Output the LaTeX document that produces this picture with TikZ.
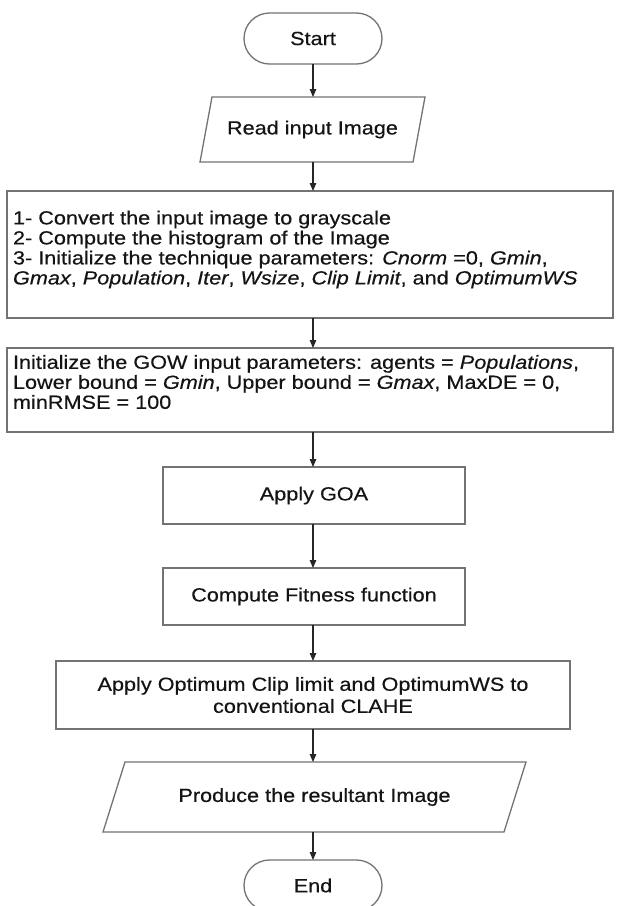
\documentclass[tikz,border=0pt]{standalone}
\usepackage{fontspec}
\setmainfont{Liberation Sans}[FakeStretch=1.14, FakeBold=0.4]
\usetikzlibrary{shapes.misc, arrows.meta, calc}
\begin{document}
\begin{tikzpicture}[x=1pt,y=-1pt,
  every node/.style={font=\fontsize{19}{20}\selectfont, text=black!92, inner sep=0pt, outer sep=0pt},
  frame/.style={draw=black!55, line width=1.3pt, fill=white},
  termbox/.style={frame, rounded rectangle, minimum width=138pt, minimum height=51pt},
  procbox/.style={frame, rectangle},
  iobox/.style={rectangle, draw=none},
  slantline/.style={draw=black!55, line width=1.3pt},
  flow/.style={draw=black!85, line width=1.1pt, -{Triangle[length=8pt,width=6.5pt]}}
]
\fill[white] (0,0) rectangle (617,906);
\useasboundingbox (0,0) rectangle (617,906);

% Start
\node[termbox] (start) at (313,38.5) {Start};

% Read input image (parallelogram)
\node[iobox, minimum width=213pt, minimum height=65pt] (read) at (312.5,129.5) {Read input Image};
\draw[slantline] ($(read.north west)+(6,0)$) -- ($(read.north east)+(6,0)$) -- ($(read.south east)+(-6,0)$) -- ($(read.south west)+(-6,0)$) -- cycle;

% Box 1
\node[procbox, minimum width=606pt, minimum height=127pt] (init) at (310,254.5) {};
\node[anchor=west, align=left] (inittext) at ($(init.west)+(6,-5)$) {1- Convert the input image to grayscale\\
2- Compute the histogram of the Image\\
3- Initialize the technique parameters: \textit{Cnorm} =0, \textit{Gmin},\\
\textit{Gmax}, \textit{Population}, \textit{Iter}, \textit{Wsize}, \textit{Clip Limit}, and \textit{OptimumWS}};

% Box 2
\node[procbox, minimum width=606pt, minimum height=84pt] (gow) at (310,390) {};
\node[anchor=west, align=left] (gowtext) at ($(gow.west)+(6,-8)$) {Initialize the GOW input parameters: agents = \textit{Populations},\\
Lower bound = \textit{Gmin}, Upper bound = \textit{Gmax}, MaxDE = 0,\\
minRMSE = 100};

% Apply GOA
\node[procbox, minimum width=302pt, minimum height=57pt] (goa) at (314,495.5) {Apply GOA};

% Compute fitness
\node[procbox, minimum width=302pt, minimum height=57pt] (fit) at (314,596.5) {Compute Fitness function};

% CLAHE
\node[procbox, minimum width=514pt, minimum height=68pt, align=center, font=\fontsize{19}{22}\selectfont] (clahe) at (313,695) {Apply Optimum Clip limit and OptimumWS to\\conventional CLAHE};

% Produce resultant image (parallelogram)
\node[iobox, minimum width=401pt, minimum height=70pt] (prod) at (314.5,797) {Produce the resultant Image};
\draw[slantline] ($(prod.north west)+(11,0)$) -- ($(prod.north east)+(11,0)$) -- ($(prod.south east)+(-11,0)$) -- ($(prod.south west)+(-11,0)$) -- cycle;

% End
\node[termbox] (end) at (313,885.5) {End};

% Connectors
\draw[flow] (start.south) -- (start.south |- read.north);
\draw[flow] (start.south |- read.south) -- (start.south |- init.north);
\draw[flow] (start.south |- init.south) -- (start.south |- gow.north);
\draw[flow] (start.south |- gow.south) -- (start.south |- goa.north);
\draw[flow] (start.south |- goa.south) -- (start.south |- fit.north);
\draw[flow] (start.south |- fit.south) -- (start.south |- clahe.north);
\draw[flow] (start.south |- clahe.south) -- (start.south |- prod.north);
\draw[flow] (start.south |- prod.south) -- (end.north);
\end{tikzpicture}
\end{document}
